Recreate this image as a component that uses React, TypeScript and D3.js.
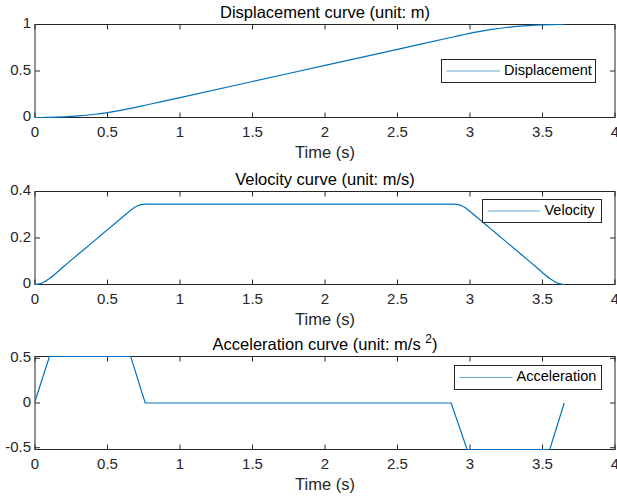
import React from "react";
import * as d3 from "d3";

const timeTicks = [0, 0.5, 1, 1.5, 2, 2.5, 3, 3.5, 4];

const dispTime = [0, 0.05, 0.1, 0.2, 0.3, 0.4, 0.5, 0.6, 0.66, 0.7, 0.76, 1, 1.5, 2, 2.5, 2.89, 2.95, 2.99, 3.05, 3.15, 3.25, 3.35, 3.45, 3.55, 3.6, 3.65];
const dispValue = [0, 0.0001, 0.0009, 0.0061, 0.0166, 0.0323, 0.0533, 0.0795, 0.0977, 0.1109, 0.1315, 0.2145, 0.3875, 0.5604, 0.7334, 0.8683, 0.8891, 0.9023, 0.9205, 0.9467, 0.9677, 0.9834, 0.9939, 0.9991, 0.9999, 1.0];

const velTime = [0, 0.05, 0.1, 0.2, 0.3, 0.4, 0.5, 0.6, 0.66, 0.7, 0.76, 2.89, 2.95, 2.99, 3.05, 3.15, 3.25, 3.35, 3.45, 3.55, 3.6, 3.65];
const velValue = [0, 0.0066, 0.0262, 0.0786, 0.131, 0.1835, 0.2359, 0.2883, 0.3197, 0.3365, 0.346, 0.346, 0.3365, 0.3197, 0.2883, 0.2359, 0.1835, 0.131, 0.0786, 0.0262, 0.0066, 0];

const accTime = [0, 0.1, 0.66, 0.76, 2.87, 2.98, 3.55, 3.65];
const accValue = [0.02, 0.52, 0.52, 0, 0, -0.52, -0.52, 0];

const dispTicks = [0, 0.5, 1];
const velTicks = [0, 0.2, 0.4];
const accTicks = [-0.5, 0, 0.5];

const LINE = "#0072BD";
const AXIS = "#262626";
const FONT = "'Liberation Sans', Arial, Helvetica, sans-serif";

interface PanelProps {
  title: React.ReactNode;
  top: number;
  bottom: number;
  yDomain: [number, number];
  yTicks: number[];
  times: number[];
  values: number[];
  smooth: boolean;
  legend: { label: string; x0: number; x1: number; y0: number; y1: number; lineEnd: number };
}

const left = 35;
const right = 615;

function Panel({ title, top, bottom, yDomain, yTicks, times, values, smooth, legend }: PanelProps) {
  const x = d3.scaleLinear().domain([0, 4]).range([left, right]);
  const y = d3.scaleLinear().domain(yDomain).range([bottom, top]);
  const pts: [number, number][] = times.map((t, i) => [t, values[i]]);
  const path = d3
    .line<[number, number]>()
    .x(d => x(d[0]))
    .y(d => y(d[1]))
    .curve(smooth ? d3.curveMonotoneX : d3.curveLinear)(pts) ?? "";
  const tl = 5;
  const ly = (legend.y0 + legend.y1) / 2;

  return (
    <g>
      <rect x={left} y={top} width={right - left} height={bottom - top} fill="none" stroke={AXIS} strokeWidth={1} />
      {timeTicks.map(t => (
        <g key={"x" + t}>
          <line x1={x(t)} x2={x(t)} y1={bottom} y2={bottom - tl} stroke={AXIS} />
          <line x1={x(t)} x2={x(t)} y1={top} y2={top + tl} stroke={AXIS} />
          <text x={x(t)} y={bottom + 16} textAnchor="middle" dominantBaseline="middle" fontSize={15} fill={AXIS}>
            {String(t)}
          </text>
        </g>
      ))}
      {yTicks.map(v => (
        <g key={"y" + v}>
          <line x1={left} x2={left + tl} y1={y(v)} y2={y(v)} stroke={AXIS} />
          <line x1={right} x2={right - tl} y1={y(v)} y2={y(v)} stroke={AXIS} />
          <text x={left - 4} y={y(v)} textAnchor="end" dominantBaseline="middle" fontSize={15} fill={AXIS}>
            {String(v)}
          </text>
        </g>
      ))}
      {/* data line goes over the box, as in MATLAB */}
      <path d={path} fill="none" stroke={LINE} strokeWidth={1.2} />
      <text x={(left + right) / 2} y={bottom + 36} textAnchor="middle" dominantBaseline="middle" fontSize={16.5} fill={AXIS}>
        Time (s)
      </text>
      <text x={(left + right) / 2} y={top - 11} textAnchor="middle" dominantBaseline="middle" fontSize={16.5} fill="#000">
        {title}
      </text>
      <rect x={legend.x0} y={legend.y0} width={legend.x1 - legend.x0} height={legend.y1 - legend.y0} fill="#fff" stroke={AXIS} strokeWidth={1} />
      <line x1={legend.x0 + 5} x2={legend.lineEnd} y1={ly} y2={ly} stroke={LINE} strokeOpacity={0.6} strokeWidth={1.2} />
      <text x={legend.lineEnd + 4} y={ly} dominantBaseline="middle" fontSize={14.5} fill="#000">
        {legend.label}
      </text>
    </g>
  );
}

export default function App() {
  return (
    <svg width={617} height={498} style={{ position: "absolute", left: 0, top: 0, background: "#fff", fontFamily: FONT }}>
      <rect width={617} height={498} fill="#fff" />
      <Panel
        title="Displacement curve (unit: m)"
        top={24.5}
        bottom={117.5}
        yDomain={[0, 1]}
        yTicks={dispTicks}
        times={dispTime}
        values={dispValue}
        smooth
        legend={{ label: "Displacement", x0: 441.5, x1: 595.5, y0: 59.5, y1: 82.5, lineEnd: 500 }}
      />
      <Panel
        title="Velocity curve (unit: m/s)"
        top={191.5}
        bottom={284.5}
        yDomain={[0, 0.4]}
        yTicks={velTicks}
        times={velTime}
        values={velValue}
        smooth
        legend={{ label: "Velocity", x0: 482.5, x1: 601.5, y0: 199.5, y1: 222.5, lineEnd: 540.5 }}
      />
      <Panel
        title={
          <>
            Acceleration curve (unit: m/s <tspan dy={-6} fontSize={12}>2</tspan>
            <tspan dy={6}>)</tspan>
          </>
        }
        top={356.5}
        bottom={449.5}
        yDomain={[-0.52, 0.52]}
        yTicks={accTicks}
        times={accTime}
        values={accValue}
        smooth={false}
        legend={{ label: "Acceleration", x0: 454.5, x1: 601.5, y0: 365.5, y1: 389.5, lineEnd: 512.5 }}
      />
    </svg>
  );
}
